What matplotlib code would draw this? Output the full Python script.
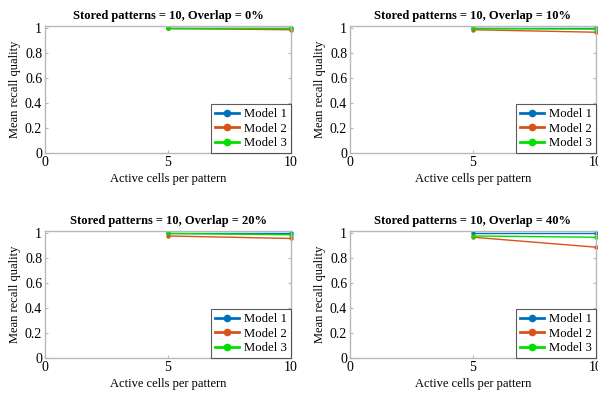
import matplotlib
matplotlib.use("Agg")
import matplotlib.pyplot as plt

plt.rcParams['font.family'] = ['Liberation Serif', 'DejaVu Serif']

x_cells = [5, 10]
overlaps = ["0%", "10%", "20%", "40%"]
stored = 10
model_names = ["Model 1", "Model 2", "Model 3"]
model1 = [[1.0, 1.0], [1.0, 1.0], [1.0, 1.0], [1.0, 1.0]]
model2 = [[1.0, 0.99], [0.99, 0.97], [0.98, 0.96], [0.97, 0.89]]
model3 = [[1.0, 1.0], [1.0, 0.995], [1.0, 0.99], [0.98, 0.97]]
colors = ["#0072BD", "#D95319", "#00E000"]
xticks = [0, 5, 10]
yticks = [0, 0.2, 0.4, 0.6, 0.8, 1]
ytick_labels = ["0", "0.2", "0.4", "0.6", "0.8", "1"]

fig = plt.figure(figsize=(5.98, 3.94), dpi=100)
W, H = 598, 394
positions = [
    (45, 26, 291, 153),
    (350, 26, 596, 153),
    (45, 231, 291, 358),
    (350, 231, 596, 358),
]
for i, (l, t, r, b) in enumerate(positions):
    ax = fig.add_axes([l / W, 1 - b / H, (r - l) / W, (b - t) / H])
    series = [model1[i], model2[i], model3[i]]
    for name, vals, c in zip(model_names, series, colors):
        ax.plot(x_cells, vals, color=c, lw=1.0, marker='o', markersize=2.2,
                label=name, clip_on=False)
    ax.set_xlim(0, 10)
    ax.set_ylim(0, 1.02)
    ax.set_xticks(xticks)
    ax.set_yticks(yticks)
    ax.set_yticklabels(ytick_labels)
    for s in ax.spines.values():
        s.set_color('#b8b8b8')
        s.set_linewidth(1.0)
    ax.tick_params(direction='in', length=2, color='#b8b8b8', labelsize=10,
                   right=True, top=False, pad=2)
    ax.set_title(f"Stored patterns = {stored}, Overlap = {overlaps[i]}",
                 fontsize=9, fontweight='bold', pad=5)
    ax.set_xlabel("Active cells per pattern", fontsize=9, labelpad=3)
    ax.set_ylabel("Mean recall quality", fontsize=9, labelpad=3)
    leg = ax.legend(loc='lower right', fontsize=9.2, frameon=True, fancybox=False,
                    borderaxespad=0.0, handlelength=1.9, handletextpad=0.4,
                    borderpad=0.3, labelspacing=0.2)
    leg.get_frame().set_edgecolor('#333333')
    leg.get_frame().set_linewidth(0.8)
    for h in leg.get_lines():
        h.set_linewidth(2.0)
        h.set_markersize(4.5)

fig.savefig("out.png", dpi=100)
